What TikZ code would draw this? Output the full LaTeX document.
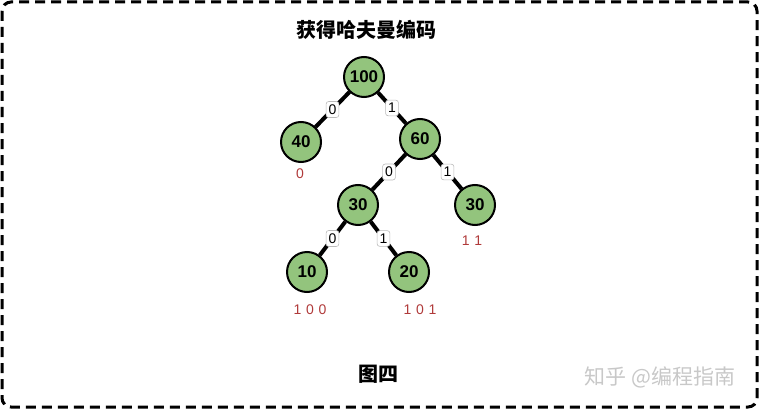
\documentclass[tikz,border=0pt]{standalone}
\usepackage{fontspec}
\setmainfont{Liberation Sans}
\newfontfamily\cjk{Noto Sans CJK SC}
\usepackage{xcolor}
\definecolor{cLeaf}{HTML}{93C47D}
\definecolor{cCode}{HTML}{B03A3A}
\definecolor{cTag}{HTML}{BBBBBB}
\definecolor{cMark}{HTML}{C8C8C8}
\usetikzlibrary{positioning}
\tikzset{
  node-tree/.style={draw=black,line width=2pt,circle,fill=cLeaf,
    minimum size=40pt,inner sep=0pt,font=\fontsize{17}{17}\selectfont\bfseries},
  node-tag/.style={draw=cTag,line width=0.6pt,fill=white,rounded corners=2.5pt,
    inner xsep=2.5pt,inner ysep=3pt,font=\fontsize{14}{14}\selectfont},
  node-code/.style={text=cCode,font=\fontsize{14}{14}\selectfont},
  edge-tree/.style={line width=4pt,draw=black},
}
\begin{document}
\begin{tikzpicture}[x=1pt,y=-1pt]
  \useasboundingbox (0,0) rectangle (759,409);
  \draw[line width=3pt,dash pattern=on 10pt off 6pt,rounded corners=9pt]
    (2,2) rectangle (757,407);
  \node[font=\cjk\bfseries\fontsize{20}{20}\selectfont] (title) at (366,30) {获得哈夫曼编码};
  % 树
  \node[node-tree] (n100) at (364,77)  {100};
  \node[node-tree] (n40)  at (301,142) {40};
  \node[node-tree] (n60)  at (420,139) {60};
  \node[node-tree] (n30a) at (358,205) {30};
  \node[node-tree] (n30b) at (475,205) {30};
  \node[node-tree] (n10)  at (307,272) {10};
  \node[node-tree] (n20)  at (409,272) {20};
  \draw[edge-tree] (n100) -- node[node-tag]{0} (n40);
  \draw[edge-tree] (n100) -- node[node-tag]{1} (n60);
  \draw[edge-tree] (n60)  -- node[node-tag]{0} (n30a);
  \draw[edge-tree] (n60)  -- node[node-tag]{1} (n30b);
  \draw[edge-tree] (n30a) -- node[node-tag]{0} (n10);
  \draw[edge-tree] (n30a) -- node[node-tag]{1} (n20);
  % 编码
  \node[node-code] (c40)  at (300,174) {0};
  \node[node-code] (c30b) at (472,241) {1\,\,1};
  \node[node-code] (c10)  at (310,310) {1\,\,0\,\,0};
  \node[node-code] (c20)  at (420,310) {1\,\,0\,\,1};
  \node[font=\cjk\bfseries\fontsize{20}{20}\selectfont] (fig) at (378,374) {图四};
  \node[text=cMark,font=\cjk\fontsize{21}{21}\selectfont] (mark) at (660,377) {知乎 @编程指南};
\end{tikzpicture}
\end{document}
